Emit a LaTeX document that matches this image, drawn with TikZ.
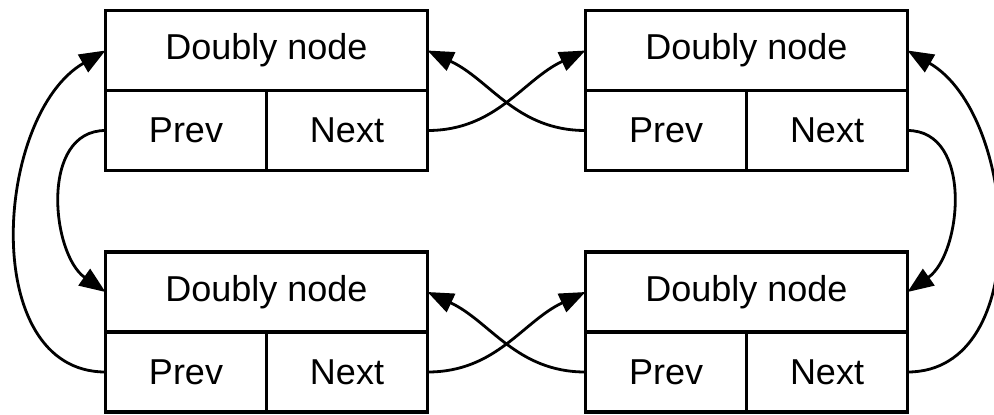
\documentclass[tikz,border=0pt]{standalone}
\usepackage{fontspec}
\setmainfont{Liberation Sans}
\usetikzlibrary{arrows.meta}

\tikzset{
  head/.style={draw, line width=1.6pt, outer sep=0pt, minimum width=161pt, minimum height=40pt, inner sep=0pt},
  cell/.style={draw, line width=1.6pt, outer sep=0pt, minimum width=80.5pt, minimum height=40pt, inner sep=0pt},
  link/.style={line width=1.4pt, -{Triangle[length=13pt,width=10pt]}}
}

\begin{document}
\begin{tikzpicture}[x=0.5pt, y=-0.5pt, font=\fontsize{18pt}{21pt}\selectfont]
    \useasboundingbox (0,0) rectangle (994,414);
    % top row
    \node [head] (h1) at (266.5,50.5) {Doubly node};
    \node [cell, anchor=north west] (p1) at (h1.south west) {Prev};
    \node [cell, anchor=north east] (n1) at (h1.south east) {Next};
    \node [head] (h2) at (746.5,50.5) {Doubly node};
    \node [cell, anchor=north west] (p2) at (h2.south west) {Prev};
    \node [cell, anchor=north east] (n2) at (h2.south east) {Next};
    % bottom row
    \node [head] (h3) at (266.5,292) {Doubly node};
    \node [cell, anchor=north west] (p3) at (h3.south west) {Prev};
    \node [cell, anchor=north east] (n3) at (h3.south east) {Next};
    \node [head] (h4) at (746.5,292) {Doubly node};
    \node [cell, anchor=north west] (p4) at (h4.south west) {Prev};
    \node [cell, anchor=north east] (n4) at (h4.south east) {Next};
    % crossings between columns
    \draw [link] (n1.east) to [out=0, in=205] (h2.west);
    \draw [link] (p2.west) to [out=180, in=-25] (h1.east);
    \draw [link] (n3.east) to [out=0, in=205] (h4.west);
    \draw [link] (p4.west) to [out=180, in=-25] (h3.east);
    % left side
    \draw [link] (p1.west) to [out=180, in=145, looseness=1.05] (h3.west);
    \draw [link] (p3.west) to [out=180, in=210, looseness=1.02] (h1.west);
    % right side
    \draw [link] (n2.east) to [out=0, in=35, looseness=1.05] (h4.east);
    \draw [link] (n4.east) to [out=0, in=-30, looseness=1.02] (h2.east);
\end{tikzpicture}
\end{document}
